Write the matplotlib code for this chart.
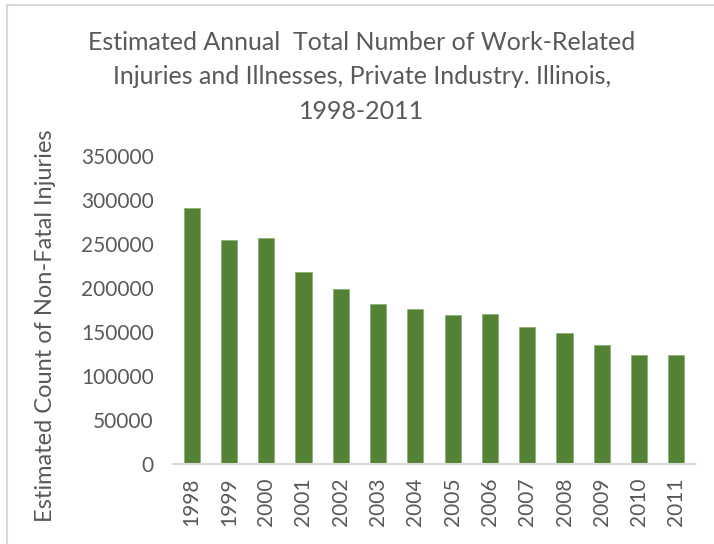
import matplotlib
matplotlib.use("Agg")
import matplotlib.pyplot as plt
from matplotlib.lines import Line2D

years = ["1998", "1999", "2000", "2001", "2002", "2003", "2004",
         "2005", "2006", "2007", "2008", "2009", "2010", "2011"]
injuries = [291000, 254500, 256500, 218500, 198500, 182500, 176000,
            169500, 171000, 155500, 149000, 135000, 124000, 124000]
y_ticks = [0, 50000, 100000, 150000, 200000, 250000, 300000, 350000]

text_grey = "#595959"
bar_green = "#548235"

plt.rcParams["font.family"] = ["Lato", "DejaVu Sans"]

fig = plt.figure(figsize=(7.14, 5.44), dpi=100)
ax = fig.add_axes([173 / 714, 1 - 464 / 544, (695 - 173) / 714, (464 - 156.3) / 544])

x = range(len(years))
ax.bar(x, injuries, width=0.43, color=bar_green, edgecolor="#8fae7a", linewidth=0.6, zorder=2)

ax.set_xlim(-0.5, len(years) - 0.5)
ax.set_ylim(0, 350000)
ax.set_yticks(y_ticks)
ax.set_yticklabels([str(v) for v in y_ticks], fontsize=15, color=text_grey)
ax.set_xticks(list(x))
ax.set_xticklabels(years, rotation=90, fontsize=15, color=text_grey)
ax.tick_params(axis="both", length=0)
ax.tick_params(axis="y", pad=14)
ax.tick_params(axis="x", pad=10)

for side in ["top", "right", "left"]:
    ax.spines[side].set_visible(False)
ax.spines["bottom"].set_color("#d9d9d9")
ax.spines["bottom"].set_linewidth(1.5)

ax.set_ylabel("Estimated Count of Non-Fatal Injuries", fontsize=17, color=text_grey)
ax.yaxis.set_label_coords(-0.224, 0.45)

fig.text(362 / 714, 1 - 31 / 544,
         "Estimated Annual  Total Number of Work-Related\n"
         "Injuries and Illnesses, Private Industry. Illinois,\n"
         "1998-2011",
         ha="center", va="top", fontsize=18, color=text_grey, linespacing=1.6)

# light chart-area border along the left and top edges
fig.add_artist(Line2D([7 / 714, 7 / 714], [0, 1 - 5 / 544], transform=fig.transFigure,
                      color="#d9d9d9", linewidth=1.5))
fig.add_artist(Line2D([7 / 714, 1], [1 - 5 / 544, 1 - 5 / 544], transform=fig.transFigure,
                      color="#d9d9d9", linewidth=1.5))

fig.savefig("out.png", dpi=100, facecolor="white")
